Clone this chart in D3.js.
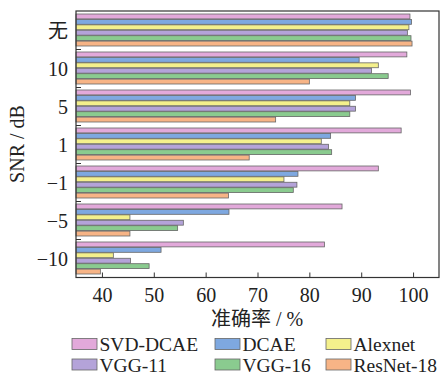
<!DOCTYPE html>
<html>
<head>
<meta charset="utf-8">
<script src="https://cdn.jsdelivr.net/npm/d3@7"></script>
<style>
  body { margin: 0; background: #fff; }
  text { font-family: "Liberation Serif", "Noto Sans CJK SC", serif; fill: #222; }
</style>
</head>
<body>
<svg id="chart" width="445" height="377"></svg>
<script>
// Data
const snrLevels = ["无", "10", "5", "1", "\u22121", "\u22125", "\u221210"];
const models = ["SVD-DCAE", "DCAE", "Alexnet", "VGG-11", "VGG-16", "ResNet-18"];
const svdDcae  = [99.4, 98.8, 99.5, 97.7, 93.3, 86.3, 82.9];
const dcae     = [99.7, 89.6, 88.9, 84.1, 77.8, 64.5, 51.4];
const alexnet  = [99.2, 93.3, 87.8, 82.3, 75.1, 45.4, 42.2];
const vgg11    = [98.9, 92.0, 88.9, 83.7, 77.6, 55.7, 45.5];
const vgg16    = [99.6, 95.2, 87.8, 84.3, 76.9, 54.6, 49.1];
const resnet18 = [99.8, 80.0, 73.5, 68.4, 64.4, 45.4, 39.7];
const xTicks = [40, 50, 60, 70, 80, 90, 100];

const colors = ["#e2a9da", "#7ea8e0", "#f4f08c", "#b4a3d9", "#8acb8f", "#f7b486"];
const seriesValues = [svdDcae, dcae, alexnet, vgg11, vgg16, resnet18];

const svg = d3.select("#chart");
const plotLeft = 76, plotRight = 439, plotTop = 11, plotBottom = 277.5;

const x = d3.scaleLinear().domain([35, 105]).range([plotLeft, plotRight]);
const y = d3.scaleBand().domain(snrLevels).range([plotTop + 1.5, plotBottom + 1]).paddingInner(0);
const ySub = d3.scaleBand().domain(models).range([1.5, y.bandwidth() - 4.5]).paddingInner(0.1);

// bars
snrLevels.forEach((lvl, i) => {
	const g = svg.append("g").attr("transform", `translate(0,${y(lvl)})`);
	g.selectAll("rect")
		.data(models.map((m, j) => ({m: m, v: seriesValues[j][i], c: colors[j]})))
		.enter()
		.append("rect")
			.attr("x", x(35))
			.attr("y", d => ySub(d.m))
			.attr("width", d => x(d.v) - x(35))
			.attr("height", ySub.bandwidth())
			.attr("fill", d => d.c)
			.attr("stroke", "#666")
			.attr("stroke-width", 0.8);
});

// frame
svg.append("rect")
	.attr("x", plotLeft).attr("y", plotTop)
	.attr("width", plotRight - plotLeft).attr("height", plotBottom - plotTop)
	.attr("fill", "none").attr("stroke", "#333").attr("stroke-width", 1.2);

// x axis
const xAxis = svg.append("g")
	.attr("transform", `translate(0,${plotBottom})`)
	.call(d3.axisBottom(x).tickValues(xTicks).tickSizeInner(-5).tickSizeOuter(0).tickPadding(10));
xAxis.select(".domain").remove();
xAxis.selectAll("line").attr("stroke", "#333");
xAxis.selectAll("text").style("font-size", "20px").attr("fill", "#222");

// y axis: labels centred on groups, ticks between groups
svg.append("g")
	.selectAll("text")
	.data(snrLevels)
	.enter()
		.append("text")
		.text(d => d)
		.attr("x", 68)
		.attr("y", d => y(d) + y.bandwidth() / 2 + 2)
		.attr("text-anchor", "end")
		.attr("dominant-baseline", "middle")
		.style("font-size", "20px");

svg.append("g")
	.selectAll("line")
	.data(snrLevels.slice(1))
	.enter()
		.append("line")
		.attr("x1", plotLeft).attr("x2", plotLeft + 5)
		.attr("y1", d => y(d) - 1).attr("y2", d => y(d) - 1)
		.attr("stroke", "#333");

// axis titles
svg.append("text")
	.text("准确率 / %")
	.attr("x", 257).attr("y", 326)
	.attr("text-anchor", "middle")
	.style("font-size", "20px");

svg.append("text")
	.text("SNR / dB")
	.attr("transform", "translate(24,144) rotate(-90)")
	.attr("text-anchor", "middle")
	.style("font-size", "20px");

// legend
const legX = [72, 215, 326];
const legY = [338.5, 359];
const leg = svg.append("g")
	.selectAll("g")
	.data(models)
	.enter()
		.append("g")
		.attr("transform", (d, i) => `translate(${legX[i % 3]},${legY[Math.floor(i / 3)]})`);
leg.append("rect")
	.attr("width", 25).attr("height", 11)
	.attr("fill", (d, i) => colors[i])
	.attr("stroke", "#666").attr("stroke-width", 0.8);
leg.append("text")
	.text(d => d)
	.attr("x", 27.5).attr("y", 12.5)
	.style("font-size", "19.5px");
</script>
</body>
</html>
